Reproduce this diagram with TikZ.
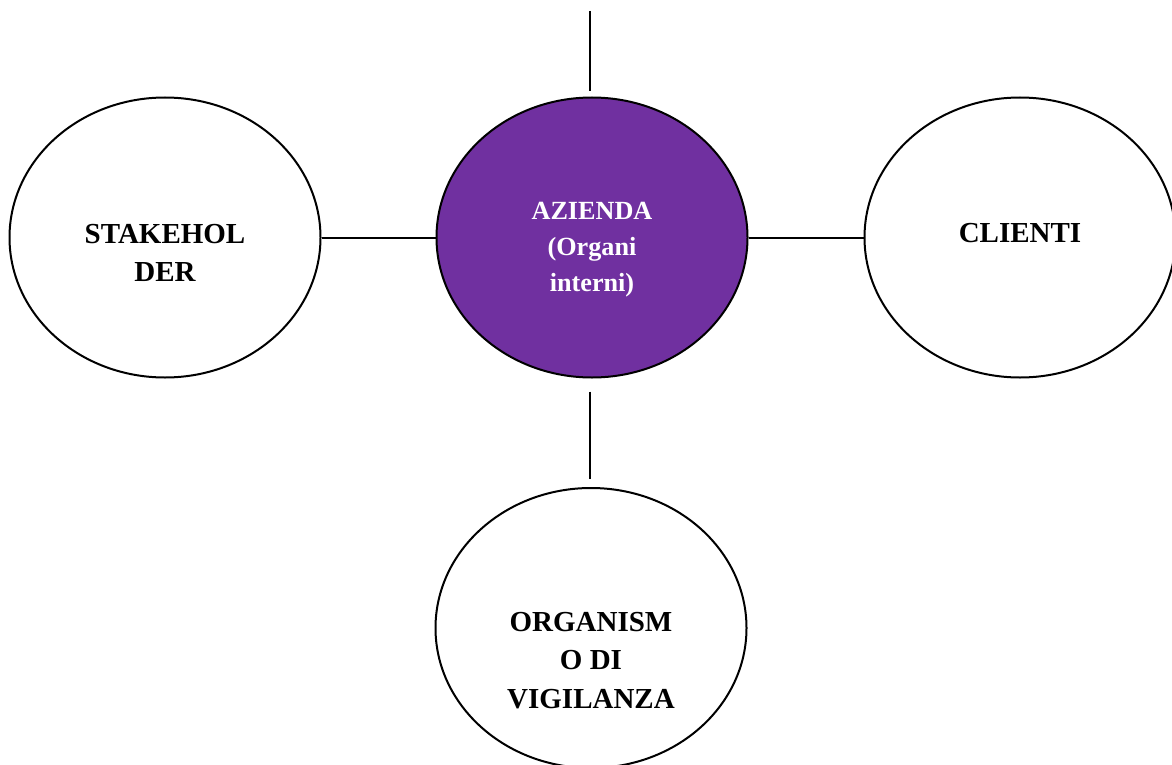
\documentclass[tikz,border=0pt]{standalone}
\usepackage{fontspec}
\setmainfont{Liberation Serif}
\usetikzlibrary{shapes.geometric}
\definecolor{azviola}{HTML}{7030A0}

\begin{document}
\begin{tikzpicture}[x=1pt,y=-1pt,
        bubble/.style={ellipse,draw,line width=2pt,minimum width=311pt,minimum height=280pt,inner sep=0pt},
        lbl/.style={align=center,inner sep=0pt,font=\bfseries\fontsize{29}{38.5}\selectfont},
        corelbl/.style={lbl,text=white,font=\bfseries\fontsize{26.2}{36}\selectfont},
        link/.style={line width=2pt}]
        % 画布大小(与原图相同)
        \useasboundingbox (0,0) rectangle (1172,765);
        % 椭圆
        \node[bubble,fill=azviola] (az) at (592,237.5) {};
        \node[bubble] (sh) at (165,237.5) {};
        \node[bubble] (cl) at (1020,237.5) {};
        \node[bubble] (org) at (591,628) {};
        % 文字
        \node[corelbl] (aztxt) at (592,249.5) {AZIENDA\\(Organi\\interni)};
        \node[lbl] (shtxt) at (165,252.8) {STAKEHOL\\DER};
        \node[lbl] (cltxt) at (1020,233.3) {CLIENTI};
        \node[lbl] (orgtxt) at (591,660.4) {ORGANISM\\O DI\\VIGILANZA};
        % 连线
        \coordinate (top) at (590,11);
        \draw[link] (top) -- ([yshift=5pt]top |- az.north);
        \draw[link] ([yshift=-13pt]top |- az.south) -- ([yshift=8pt]top |- org.north);
        \draw[link] (sh.east) -- (az.west);
        \draw[link] (az.east) -- (cl.west);
    \end{tikzpicture}
\end{document}
